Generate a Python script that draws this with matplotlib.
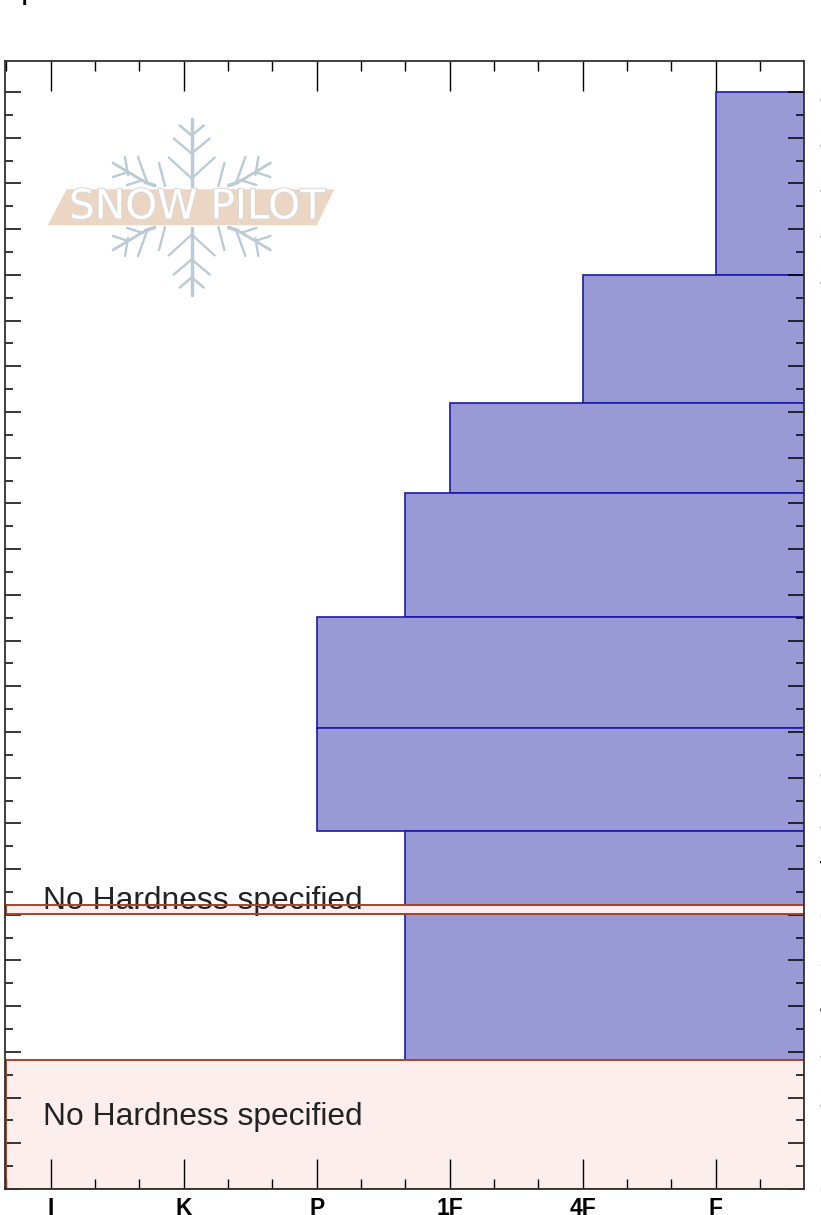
import numpy as np
import matplotlib.pyplot as plt
from matplotlib.patches import Polygon
import matplotlib.patheffects as pe

plt.rcParams['font.family'] = ['Liberation Sans', 'DejaVu Sans']

# hardness scale and depth ticks
hardness_names = ['I', 'K', 'P', '1F', '4F', 'F']
hardness_pos = [0, 1, 2, 3, 4, 5]
hardness_minor = [-0.333, 0.333, 0.667, 1.333, 1.667, 2.333, 2.667, 3.333, 3.667, 4.333, 4.667, 5.333]
depth_major = list(range(0, 250, 10))
depth_minor = list(range(5, 245, 10))

# layers with a hardness
layer_top = [240, 200, 172, 152.3, 125.2, 100.9, 78.3, 60.2]
layer_bottom = [200, 172, 152.3, 125.2, 100.9, 78.3, 62.1, 28.2]
layer_hard = [5, 4, 3, 2.667, 2, 2, 2.667, 2.667]

# layers without one
none_top = [62.1, 28.2]
none_bottom = [60.2, 0]
none_text_y = [63, 15.7]

xmin, xmax = -0.344, 5.664
ymin, ymax = 0, 246.8

fig = plt.figure(figsize=(8.21, 12.15), dpi=100)
ax = fig.add_axes([5 / 821, 26 / 1215, 799 / 821, 1128 / 1215])

for t, b, h in zip(layer_top, layer_bottom, layer_hard):
    ax.barh(b, xmax + 0.1 - h, height=t - b, left=h, align='edge',
            color='#9999d6', edgecolor='#1a1aa8', linewidth=1.2)

for t, b, y in zip(none_top, none_bottom, none_text_y):
    ax.barh(b, xmax - xmin + 0.1, height=t - b, left=xmin + 0.008, align='edge',
            color='#fdeeee', edgecolor='none')
    ax.text(-0.057, y, 'No Hardness specified', fontsize=22.9, color='#222222',
            va='center', ha='left', zorder=3)
    # outline goes over the text
    ax.barh(b, xmax - xmin + 0.1, height=t - b, left=xmin + 0.008, align='edge',
            fill=False, edgecolor='#a8432a', linewidth=1.4, zorder=4)

ax.set_xlim(xmin, xmax)
ax.set_ylim(ymin, ymax)

ax.set_xticks(hardness_pos)
ax.set_xticklabels(hardness_names, fontweight='bold', fontsize=16.5)
ax.set_xticks(hardness_minor, minor=True)
ax.set_yticks(depth_major)
ax.set_yticklabels([str(d) for d in depth_major], fontweight='bold', fontsize=16.5)
ax.set_yticks(depth_minor, minor=True)

ax.tick_params(axis='x', which='major', direction='in', top=True, length=21.5, width=1, pad=5.5)
ax.tick_params(axis='x', which='minor', direction='in', top=True, length=7, width=1)
ax.tick_params(axis='y', which='major', direction='in', right=True, left=True, labelleft=False,
               labelright=True, length=11.5, width=1.1, pad=11)
ax.tick_params(axis='y', which='minor', direction='in', right=True, left=True, length=6, width=1.1)
for s in ax.spines.values():
    s.set_linewidth(1.3)
    s.set_color('#303030')
    s.set_zorder(5)

# logo, in picture pixels
over = fig.add_axes([0, 0, 1, 1], facecolor='none')
over.set_xlim(0, 821)
over.set_ylim(1215, 0)
over.axis('off')

cx, cy = 191.7, 206.5
flake = [
    ((0, -88), (0, -21), 2.3),
    ((0, -71), (-12, -81), 1.8),
    ((0, -53), (-18, -68), 1.7),
    ((0, -28), (-23, -49), 1.6),
    ((-37, -21), (-46, -24), 2.6),
    ((-46, -24), (-78.7, -43.5), 2.0),
    ((-66.7, -49.5), (-63.7, -31.5), 1.7),
    ((-53.7, -49.5), (-44.7, -24.5), 1.7),
    ((-78.7, -29.5), (-63.7, -34.5), 1.7),
    ((-64.7, -21.5), (-48.7, -26.5), 1.7),
    ((-32.7, -43.5), (-26.7, -20.5), 1.7),
]
for p0, p1, lw in flake:
    for sx in (1, -1):
        for sy in (1, -1):
            over.plot([cx + sx * p0[0], cx + sx * p1[0]], [cy + sy * p0[1], cy + sy * p1[1]],
                      color='#bacbd5', lw=lw, solid_capstyle='round')

over.add_patch(Polygon([(66.7, 189.3), (334.3, 189.3), (316.7, 225.3), (47.7, 225.3)],
                       closed=True, facecolor='#ebd6c3', edgecolor='none', zorder=4))
over.text(197, 207.5, 'SNOW PILOT', fontsize=29.3, color='white', ha='center', va='center',
          family='DejaVu Sans', zorder=5,
          path_effects=[pe.withStroke(linewidth=1.5, foreground='#d8d8d8')])

# only the tail of the cut off title shows
over.text(21, -2, 'p', fontsize=24, color='black', ha='left', va='baseline')

fig.savefig('out.png', dpi=100)
